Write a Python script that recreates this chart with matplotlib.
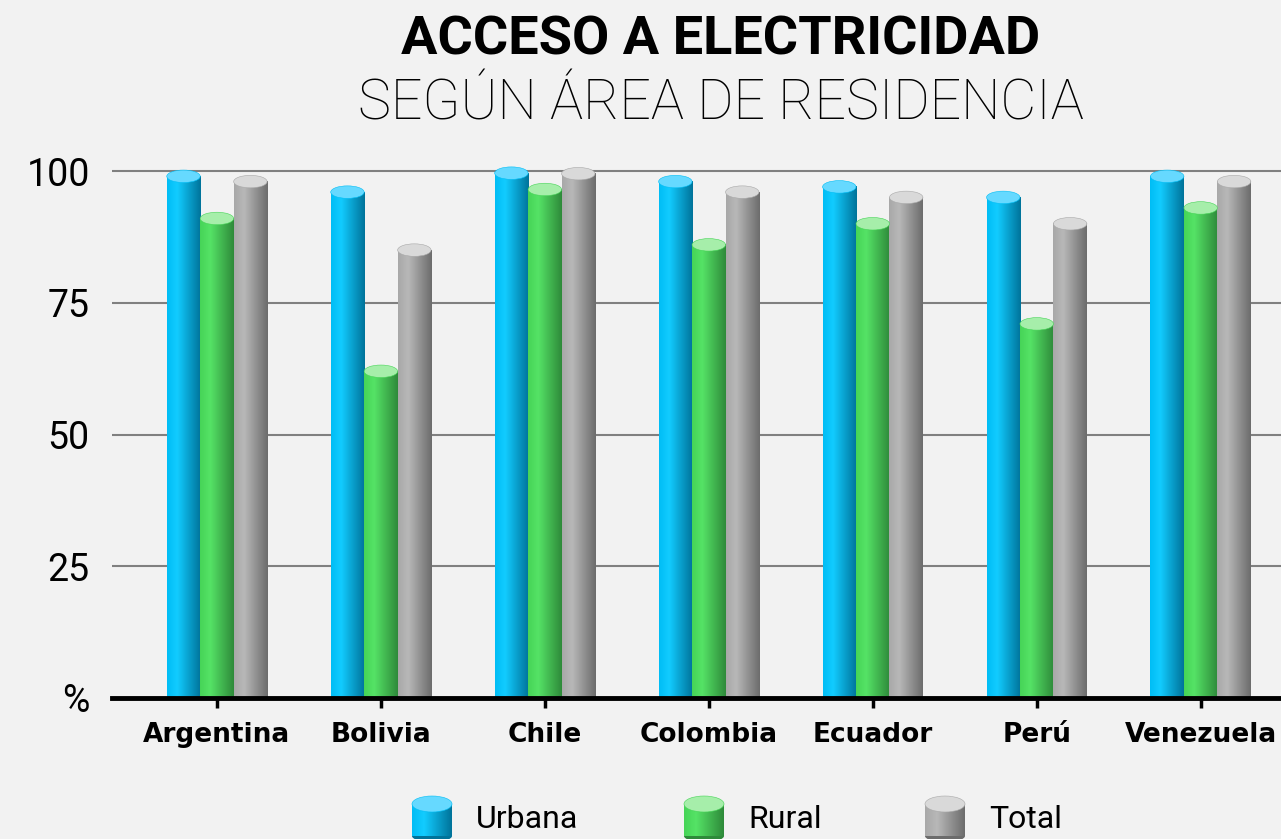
import numpy as np
import matplotlib
matplotlib.use('Agg')
import matplotlib.pyplot as plt
from matplotlib.colors import LinearSegmentedColormap
from matplotlib.patches import Ellipse

# datos (porcentaje con acceso a electricidad)
paises = ['Argentina', 'Bolivia', 'Chile', 'Colombia', 'Ecuador', 'Perú', 'Venezuela']
urbana = [99, 96, 99.6, 98, 97, 95, 99]
rural = [91, 62, 96.5, 86, 90, 71, 93]
total = [98, 85, 99.5, 96, 95, 90, 98]
series = ['Urbana', 'Rural', 'Total']
yticks = [0, 25, 50, 75, 100]
ytick_labels = ['%', '25', '50', '75', '100']

# colores: (izquierda, brillo, derecha, tapa)
colores = {
    'Urbana': ('#00bdf5', '#12ccff', '#00739a', '#66d9ff'),
    'Rural': ('#46d457', '#55e366', '#2e8a3a', '#a6eeaa'),
    'Total': ('#a8a8a8', '#b8b8b8', '#6c6c6c', '#d9d9d9'),
}
fondo = '#f2f2f2'

W, H = 1281, 839
fig = plt.figure(figsize=(W / 100, H / 100), dpi=100)
fig.patch.set_facecolor(fondo)

ax = fig.add_axes([112 / W, (H - 698) / H, (W - 112) / W, (698 - 144.7) / H])
ax.set_facecolor(fondo)

grad = np.linspace(0, 1, 128).reshape(1, -1)


def cilindro(axe, x0, x1, y0, y1, cols, cap_h, z=3):
    cmap = LinearSegmentedColormap.from_list('c', [(0, cols[0]), (0.3, cols[1]), (1, cols[2])])
    axe.imshow(grad, cmap=cmap, extent=[x0, x1, y0, y1], aspect='auto', zorder=z,
               interpolation='bilinear')
    axe.add_patch(Ellipse(((x0 + x1) / 2, y1), x1 - x0, cap_h, facecolor=cols[3],
                          edgecolor=cols[0], lw=0.4, zorder=z + 0.5))


bw = 0.204
x = np.arange(len(paises))
datos = [urbana, rural, total]
cap = 12.5 / 5.27
for i, (nombre, vals) in enumerate(zip(series, datos)):
    for xi, v in zip(x, vals):
        cx = xi + (i - 1) * bw
        cilindro(ax, cx - bw / 2, cx + bw / 2, 0, v, colores[nombre], cap)

for yv in [25, 50, 75, 100]:
    ax.axhline(yv, color='#808080', lw=1.5, zorder=1)

ax.set_xlim(-0.64, 6.49)
ax.set_ylim(0, 105)
for s in ['top', 'right', 'left']:
    ax.spines[s].set_visible(False)
ax.spines['bottom'].set_linewidth(3.5)
ax.spines['bottom'].set_zorder(10)

ax.set_yticks(yticks)
ax.set_yticklabels(ytick_labels, fontsize=27, family='Roboto')
ax.tick_params(axis='y', length=0, pad=16)
ax.set_xticks(x)
ax.set_xticklabels(paises, fontsize=19, fontweight='bold', family='DejaVu Sans')
ax.tick_params(axis='x', length=7, width=2.5, pad=10, direction='out')

# titulos
fig.text(721 / W, 1 - 40 / H, 'ACCESO A ELECTRICIDAD', ha='center', va='center',
         fontsize=39, fontweight='bold', family='Roboto')
fig.text(721 / W, 1 - 104 / H, 'SEGÚN ÁREA DE RESIDENCIA', ha='center', va='center',
         fontsize=40, fontweight='light', family='Roboto')

# leyenda con cilindros
lax = fig.add_axes([0, 0, 1, 1])
lax.set_xlim(0, W)
lax.set_ylim(H, 0)
lax.axis('off')
lax.patch.set_visible(False)
icon_x = [412, 684, 925]
text_x = [476, 748, 989]
for nombre, ix, tx in zip(series, icon_x, text_x):
    c = colores[nombre]
    cmap = LinearSegmentedColormap.from_list('l', [(0, c[0]), (0.3, c[1]), (1, c[2])])
    lax.imshow(grad, cmap=cmap, extent=[ix, ix + 40, 836, 804], aspect='auto',
               interpolation='bilinear', zorder=2)
    lax.add_patch(Ellipse((ix + 20, 836), 40, 12, facecolor=c[2], edgecolor='none', zorder=1.5))
    lax.add_patch(Ellipse((ix + 20, 804), 40, 16, facecolor=c[3], edgecolor=c[0], lw=0.4, zorder=3))
    lax.text(tx, 820, nombre, ha='left', va='center', fontsize=23, family='Roboto')
lax.set_xlim(0, W)
lax.set_ylim(H, 0)

fig.savefig('out.png', dpi=100, facecolor=fondo)
